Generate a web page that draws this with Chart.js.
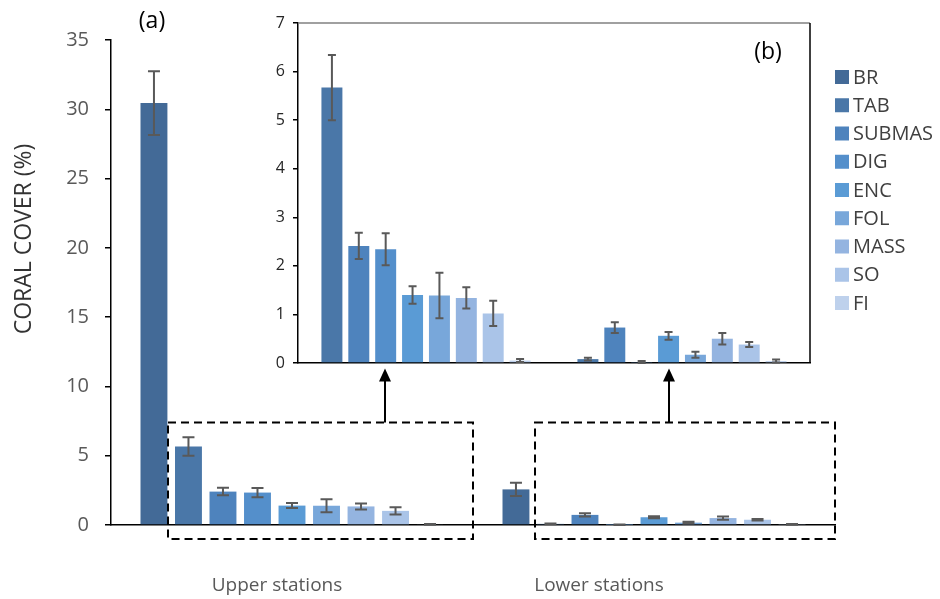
<!DOCTYPE html>
<html>
<head>
<meta charset="utf-8">
<script src="https://cdn.jsdelivr.net/npm/chart.js@4.4.1/dist/chart.umd.min.js"></script>
<style>
  html, body { margin: 0; padding: 0; background: #fff; }
  #wrap { position: relative; width: 940px; height: 599px; }
  #wrap canvas { position: absolute; left: 0; top: 0; }
</style>
</head>
<body>
<div id="wrap">
  <canvas id="mainChart" width="940" height="599"></canvas>
  <canvas id="insetChart" width="940" height="599"></canvas>
</div>
<script>
// stations on the x axis
const categories = ['Upper stations', 'Lower stations'];
// growth forms (legend order)
const forms = ['BR', 'TAB', 'SUBMAS', 'DIG', 'ENC', 'FOL', 'MASS', 'SO', 'FI'];
const formColors = ['#436a97', '#4a77a8', '#4e83bd', '#548fcb', '#5a9bd5', '#78a7da', '#94b4e0', '#aac4e8', '#bed1ec'];

// mean coral cover (%) and error (+/-) per growth form
const upperMeans = [30.45, 5.67, 2.41, 2.34, 1.40, 1.39, 1.34, 1.02, 0.05];
const upperErrors = [2.30, 0.67, 0.27, 0.33, 0.18, 0.47, 0.22, 0.26, 0.03];
const lowerMeans = [2.57, 0.08, 0.73, 0.02, 0.56, 0.17, 0.50, 0.38, 0.04];
const lowerErrors = [0.48, 0.03, 0.11, 0.02, 0.08, 0.06, 0.12, 0.05, 0.03];

const mainTicks = [0, 5, 10, 15, 20, 25, 30, 35];
const insetTicks = [0, 1, 2, 3, 4, 5, 6, 7];

Chart.defaults.font.family = "'Open Sans', sans-serif";
Chart.defaults.animation = false;

// draws the +/- error whiskers on top of every bar
const errorBars = {
    id: 'errorBars',
    afterDatasetsDraw(chart, args, opts) {
        const ctx = chart.ctx;
        const yScale = chart.scales.y;
        ctx.save();
        ctx.strokeStyle = '#595959';
        ctx.lineWidth = 2;
        chart.data.datasets.forEach((ds, di) => {
            const meta = chart.getDatasetMeta(di);
            meta.data.forEach((bar, i) => {
                const v = ds.data[i];
                const e = ds.errors[i];
                const top = yScale.getPixelForValue(v + e);
                const bot = yScale.getPixelForValue(Math.max(v - e, 0));
                ctx.beginPath();
                ctx.moveTo(bar.x, top);
                ctx.lineTo(bar.x, bot);
                ctx.moveTo(bar.x - opts.cap / 2, top);
                ctx.lineTo(bar.x + opts.cap / 2, top);
                ctx.moveTo(bar.x - opts.cap / 2, bot);
                ctx.lineTo(bar.x + opts.cap / 2, bot);
                ctx.stroke();
            });
        });
        ctx.restore();
    }
};

// text, legend, dashed zoom boxes and arrows of the main panel
const mainDecor = {
    id: 'mainDecor',
    afterDraw(chart) {
        const ctx = chart.ctx;
        const x = chart.scales.x;
        const y = chart.scales.y;
        const area = chart.chartArea;
        const halfCat = (area.right - area.left) / categories.length / 2;
        ctx.save();

        // category labels
        const labelShift = [-15, -55];
        ctx.fillStyle = '#595959';
        ctx.font = "19px 'Open Sans'";
        ctx.textAlign = 'center';
        ctx.textBaseline = 'middle';
        categories.forEach((c, i) => {
            ctx.fillText(c, x.getPixelForValue(i) + labelShift[i], 586);
        });

        // axis title
        ctx.save();
        ctx.translate(24, 239);
        ctx.rotate(-Math.PI / 2);
        ctx.fillStyle = '#333';
        ctx.font = "23px 'Open Sans'";
        ctx.fillText('CORAL COVER (%)', 0, 0);
        ctx.restore();

        // panel letter
        ctx.fillStyle = '#000';
        ctx.font = "23px 'Open Sans'";
        ctx.fillText('(a)', 152, 21);

        // legend
        ctx.textAlign = 'left';
        ctx.font = "20px 'Open Sans'";
        chart.data.datasets.forEach((ds, i) => {
            const cy = 77 + i * 28.25;
            ctx.fillStyle = ds.backgroundColor;
            ctx.fillRect(area.right, cy - 7, 14, 14);
            ctx.fillStyle = '#404040';
            ctx.fillText(ds.label, area.right + 18, cy + 1);
        });

        // dashed boxes around the zoomed bars + arrows to the inset
        const tabMeta = chart.getDatasetMeta(1);
        const arrowShift = [93, 15];
        const boxTop = y.getPixelForValue(7.4);
        const boxBottom = area.bottom + 14;
        categories.forEach((c, i) => {
            const bar = tabMeta.data[i];
            const left = bar.x - bar.width / 2 - (i === 0 ? 7 : 2);
            const right = x.getPixelForValue(i) + halfCat;
            ctx.strokeStyle = '#000';
            ctx.lineWidth = 2;
            ctx.setLineDash([8, 5]);
            ctx.strokeRect(left, boxTop, right - left, boxBottom - boxTop);
            ctx.setLineDash([]);

            const ax = x.getPixelForValue(i) + arrowShift[i];
            const tip = y.getPixelForValue(11.3);
            ctx.beginPath();
            ctx.moveTo(ax, boxTop);
            ctx.lineTo(ax, tip + 10);
            ctx.stroke();
            ctx.fillStyle = '#000';
            ctx.beginPath();
            ctx.moveTo(ax, tip);
            ctx.lineTo(ax - 6, tip + 13);
            ctx.lineTo(ax + 6, tip + 13);
            ctx.closePath();
            ctx.fill();
        });
        ctx.restore();
    }
};

// frame and panel letter of the inset
const insetDecor = {
    id: 'insetDecor',
    afterDraw(chart) {
        const ctx = chart.ctx;
        const area = chart.chartArea;
        ctx.save();
        ctx.lineWidth = 1.5;
        ctx.strokeStyle = '#808080';
        ctx.beginPath();
        ctx.moveTo(area.left, area.top);
        ctx.lineTo(area.right, area.top);
        ctx.stroke();
        ctx.strokeStyle = '#000';
        ctx.beginPath();
        ctx.moveTo(area.right, area.top);
        ctx.lineTo(area.right, area.bottom);
        ctx.stroke();
        ctx.fillStyle = '#000';
        ctx.font = "23px 'Open Sans'";
        ctx.textAlign = 'center';
        ctx.textBaseline = 'middle';
        ctx.fillText('(b)', 768, 52);
        ctx.restore();
    }
};

function buildDatasets(from) {
    return forms.slice(from).map((f, k) => {
        const i = k + from;
        return {
            label: f,
            data: [upperMeans[i], lowerMeans[i]],
            errors: [upperErrors[i], lowerErrors[i]],
            backgroundColor: formColors[i],
            borderWidth: 0
        };
    });
}

new Chart(document.getElementById('mainChart'), {
    type: 'bar',
    data: { labels: categories, datasets: buildDatasets(0) },
    options: {
        responsive: false,
        categoryPercentage: 0.858,
        barPercentage: 0.78,
        layout: { padding: { left: 0, top: 40, right: 105, bottom: 0 } },
        plugins: {
            legend: { display: false },
            tooltip: { enabled: false },
            errorBars: { cap: 12 }
        },
        scales: {
            x: {
                grid: { display: false },
                border: { color: '#000', width: 1.5 },
                ticks: { display: false },
                afterFit: s => { s.height = 74; }
            },
            y: {
                min: 0,
                max: 35,
                afterBuildTicks: s => { s.ticks = mainTicks.map(v => ({ value: v })); },
                grid: { drawOnChartArea: false, drawTicks: true, tickLength: 6, color: '#000', lineWidth: 1.5 },
                border: { color: '#000', width: 1.5 },
                ticks: { color: '#595959', font: { size: 20 }, padding: 16 },
                afterFit: s => { s.width = 111; }
            }
        }
    },
    plugins: [errorBars, mainDecor]
});

new Chart(document.getElementById('insetChart'), {
    type: 'bar',
    data: { labels: categories, datasets: buildDatasets(1) },
    options: {
        responsive: false,
        categoryPercentage: 0.84,
        barPercentage: 0.78,
        layout: { padding: { left: 0, top: 23, right: 130, bottom: 0 } },
        plugins: {
            legend: { display: false },
            tooltip: { enabled: false },
            errorBars: { cap: 8 }
        },
        scales: {
            x: {
                grid: { display: false },
                border: { color: '#000', width: 1.5 },
                ticks: { display: false },
                afterFit: s => { s.height = 236; }
            },
            y: {
                min: 0,
                max: 7,
                afterBuildTicks: s => { s.ticks = insetTicks.map(v => ({ value: v })); },
                grid: { drawOnChartArea: false, drawTicks: true, tickLength: 5, color: '#000', lineWidth: 1.5 },
                border: { color: '#000', width: 1.5 },
                ticks: { color: '#262626', font: { size: 16 }, padding: 8 },
                afterFit: s => { s.width = 298; }
            }
        }
    },
    plugins: [errorBars, insetDecor]
});
</script>
</body>
</html>
